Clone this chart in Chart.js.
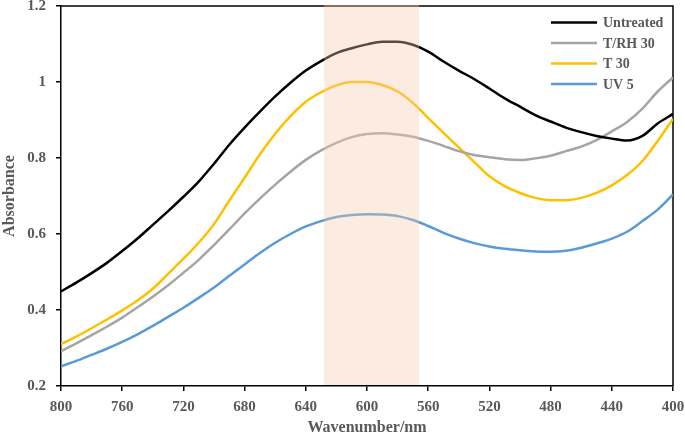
<!DOCTYPE html>
<html>
<head>
<meta charset="utf-8">
<script src="https://cdn.jsdelivr.net/npm/chart.js@4/dist/chart.umd.min.js"></script>
<style>
  html, body { margin: 0; padding: 0; background: #fff; }
  #wrap { width: 685px; height: 440px; }
</style>
</head>
<body>
<div id="wrap"><canvas id="chart"></canvas></div>
<script>
/* =========================
   DATA
========================= */
const wavelengths = [800, 790, 780, 770, 760, 750, 740, 730, 720, 710, 700, 690, 680, 670, 660, 650, 640, 630, 620, 610, 600, 590, 580, 570, 560, 550, 540, 530, 520, 510, 500, 490, 480, 470, 460, 450, 440, 430, 420, 410, 400];

const untreated = [0.449, 0.472, 0.497, 0.524, 0.555, 0.588, 0.624, 0.660, 0.698, 0.738, 0.785, 0.835, 0.880, 0.922, 0.962, 0.998, 1.030, 1.055, 1.076, 1.089, 1.099, 1.106, 1.106, 1.098, 1.080, 1.054, 1.030, 1.008, 0.983, 0.957, 0.935, 0.913, 0.896, 0.880, 0.868, 0.858, 0.851, 0.846, 0.858, 0.891, 0.916];
const trh30 = [0.292, 0.312, 0.334, 0.356, 0.380, 0.407, 0.435, 0.465, 0.498, 0.532, 0.571, 0.612, 0.654, 0.693, 0.730, 0.764, 0.795, 0.820, 0.840, 0.855, 0.863, 0.865, 0.862, 0.856, 0.845, 0.832, 0.818, 0.808, 0.802, 0.797, 0.795, 0.799, 0.806, 0.818, 0.830, 0.847, 0.870, 0.895, 0.930, 0.975, 1.012];
const t30 = [0.310, 0.330, 0.352, 0.375, 0.399, 0.425, 0.456, 0.495, 0.535, 0.577, 0.626, 0.688, 0.748, 0.810, 0.864, 0.910, 0.948, 0.973, 0.991, 1.000, 1.000, 0.992, 0.975, 0.945, 0.905, 0.866, 0.828, 0.790, 0.752, 0.726, 0.708, 0.695, 0.689, 0.689, 0.695, 0.708, 0.728, 0.755, 0.792, 0.845, 0.903];
const uv5 = [0.252, 0.266, 0.282, 0.298, 0.316, 0.336, 0.358, 0.382, 0.406, 0.432, 0.459, 0.490, 0.520, 0.550, 0.577, 0.600, 0.620, 0.634, 0.645, 0.650, 0.652, 0.651, 0.647, 0.637, 0.621, 0.603, 0.588, 0.576, 0.567, 0.561, 0.557, 0.554, 0.553, 0.556, 0.564, 0.575, 0.588, 0.606, 0.634, 0.664, 0.704];

const seriesNames = ["Untreated", "T/RH 30", "T 30", "UV 5"];
const seriesColors = ["#000000", "#a5a5a5", "#ffc000", "#5b9bd5"];
const seriesValues = [untreated, trh30, t30, uv5];

const bandRange = [628, 566];

const TEXT = "#595959";
const SERIF = "'Liberation Serif', 'Times New Roman', serif";

/* =========================
   PLUGINS
========================= */
const framePlugin = {
  id: "frame",
  beforeDatasetsDraw(chart) {
    const { ctx, chartArea } = chart;
    ctx.save();
    ctx.strokeStyle = "#000";
    ctx.lineWidth = 1.5;
    ctx.beginPath();
    ctx.moveTo(chartArea.left, chartArea.top);
    ctx.lineTo(chartArea.right, chartArea.top);
    ctx.lineTo(chartArea.right, chartArea.bottom);
    ctx.stroke();
    ctx.restore();
  },
};

const bandPlugin = {
  id: "band",
  afterDatasetsDraw(chart) {
    const { ctx, chartArea, scales } = chart;
    const x1 = scales.x.getPixelForValue(bandRange[0]);
    const x2 = scales.x.getPixelForValue(bandRange[1]);
    ctx.save();
    ctx.fillStyle = "rgba(245, 200, 170, 0.37)";
    ctx.fillRect(x1, chartArea.top - 1, x2 - x1, chartArea.bottom - chartArea.top);
    ctx.restore();
  },
};

const legendPlugin = {
  id: "insideLegend",
  afterDraw(chart) {
    const { ctx, chartArea } = chart;
    const lineStart = chartArea.right - 122;
    const lineEnd = chartArea.right - 76;
    const textX = chartArea.right - 70;
    ctx.save();
    ctx.font = "bold 14px " + SERIF;
    ctx.textBaseline = "middle";
    ctx.fillStyle = TEXT;
    chart.data.datasets.forEach((ds, i) => {
      const y = chartArea.top + 16.5 + i * 20.5;
      ctx.strokeStyle = ds.borderColor;
      ctx.lineWidth = 2.5;
      ctx.beginPath();
      ctx.moveTo(lineStart, y);
      ctx.lineTo(lineEnd, y);
      ctx.stroke();
      ctx.fillText(ds.label, textX, y + 1);
    });
    ctx.restore();
  },
};

/* =========================
   CHART
========================= */
const datasets = seriesNames.map((name, i) => ({
  label: name,
  data: wavelengths.map((w, k) => ({ x: w, y: seriesValues[i][k] })),
  borderColor: seriesColors[i],
  borderWidth: 2.5,
  pointRadius: 0,
  fill: false,
  cubicInterpolationMode: "monotone",
}));

const ctx = document.getElementById("chart").getContext("2d");

new Chart(ctx, {
  type: "line",
  data: { datasets },
  options: {
    responsive: true,
    maintainAspectRatio: false,
    animation: false,
    layout: { padding: { top: 6, right: 12, left: 0, bottom: 0 } },
    plugins: {
      legend: { display: false },
      tooltip: { enabled: false },
    },
    scales: {
      x: {
        type: "linear",
        min: 400,
        max: 800,
        reverse: true,
        afterFit(scale) {
          scale.height = 54;
          scale.paddingLeft = 0;
          scale.paddingRight = 0;
        },
        ticks: {
          stepSize: 40,
          color: TEXT,
          padding: 7,
          font: { family: SERIF, size: 15, weight: "bold" },
        },
        grid: {
          drawOnChartArea: false,
          drawTicks: true,
          tickLength: 5,
          color: "#000",
          lineWidth: 1.5,
        },
        border: { color: "#000", width: 1.5 },
        title: {
          display: true,
          text: "Wavenumber/nm",
          color: TEXT,
          padding: { top: 0, bottom: 3 },
          font: { family: SERIF, size: 16, weight: "bold", lineHeight: 1.2 },
        },
      },
      y: {
        min: 0.2,
        max: 1.2,
        afterFit(scale) {
          scale.width = 61;
          scale.paddingTop = 0;
          scale.paddingBottom = 0;
        },
        ticks: {
          stepSize: 0.2,
          color: TEXT,
          padding: 10,
          font: { family: SERIF, size: 15, weight: "bold" },
          callback: (value) => String(Number(value.toFixed(1))),
        },
        grid: {
          drawOnChartArea: false,
          drawTicks: true,
          tickLength: 5,
          color: "#000",
          lineWidth: 1.5,
        },
        border: { color: "#000", width: 1.5 },
        title: {
          display: true,
          text: "Absorbance",
          color: TEXT,
          padding: { top: 0, bottom: 0 },
          font: { family: SERIF, size: 16, weight: "bold", lineHeight: 1.2 },
        },
      },
    },
  },
  plugins: [framePlugin, bandPlugin, legendPlugin],
});
</script>
</body>
</html>
